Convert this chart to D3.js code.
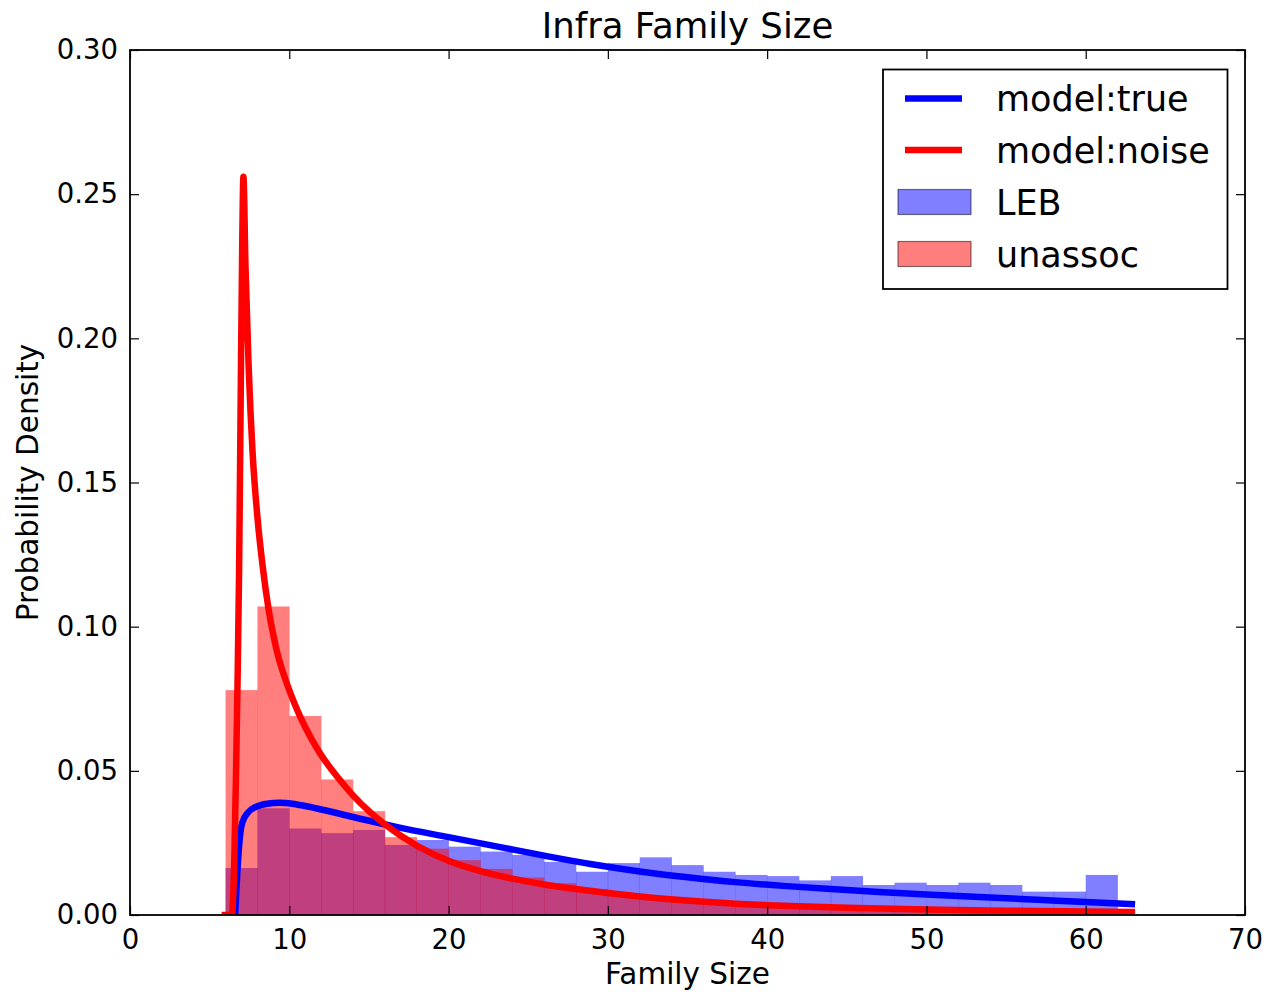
<!DOCTYPE html>
<html>
<head>
<meta charset="utf-8">
<script src="https://cdn.jsdelivr.net/npm/d3@7"></script>
<style>
  html, body { margin: 0; padding: 0; background: #fff; }
  svg { display: block; }
  text { font-family: "DejaVu Sans", sans-serif; fill: #000; }
</style>
</head>
<body>
<script>
// ---- data ----
const binEdges = [6,8,10,12,14,16,18,20,22,24,26,28,30,32,34,36,38,40,42,44,46,48,50,52,54,56,58,60,62];
const lebDensity = [0.0163,0.037,0.030,0.0284,0.0295,0.0243,0.026,0.0237,0.022,0.0208,0.0184,0.015,0.018,0.020,0.0173,0.015,0.0139,0.0135,0.012,0.0135,0.0104,0.0112,0.0104,0.0112,0.0104,0.0081,0.0081,0.0139];
const unassocDensity = [0.078,0.107,0.069,0.047,0.036,0.027,0.023,0.019,0.016,0.013,0.011,0.009,0.0075,0.006,0.005,0.0042,0.0035,0.003,0.0028,0.0025,0.0022,0.002,0.0018,0.0017,0.0015,0.0014,0.0013,0.0012];

const trueX = [6.6,6.75,6.9,7.05,7.4,7.9,8.6,9.4,10.2,11,12,14,17,20,23,26,29,32,35,38,41,44,47,50,54,57,60,63.1];
const trueY = [0,0.016,0.027,0.032,0.0355,0.0375,0.0386,0.0389,0.0386,0.0378,0.0366,0.0340,0.0302,0.0270,0.0238,0.0206,0.0176,0.0151,0.0131,0.0114,0.0101,0.0090,0.0080,0.0071,0.0061,0.0053,0.0045,0.0037];

const noiseX = [5.75,6.4,6.55,6.65,6.75,6.85,6.95,7.05,7.12,7.25,7.45,7.7,8.0,8.35,8.7,9.2,10,10.67,11.4,12,13,14,15,17,19,20,22,24,26,28,30,32,35,38,40,45,50,55,60,63.1];
const noiseY = [0,0,0.02,0.047,0.08,0.12,0.18,0.235,0.256,0.225,0.19,0.16,0.138,0.12,0.106,0.092,0.078,0.069,0.061,0.0555,0.048,0.0415,0.036,0.0275,0.0212,0.0188,0.0152,0.0126,0.0106,0.0090,0.0076,0.0064,0.0050,0.0039,0.0034,0.0025,0.0019,0.0015,0.0012,0.0010];

const xTicks = [0,10,20,30,40,50,60,70];
const yTicks = [0.00,0.05,0.10,0.15,0.20,0.25,0.30];

const legendItems = [
  {label: "model:true", type: "line", color: "#0000ff"},
  {label: "model:noise", type: "line", color: "#ff0000"},
  {label: "LEB", type: "patch", color: "#0000ff"},
  {label: "unassoc", type: "patch", color: "#ff0000"}
];

// ---- layout ----
const W = 1266, H = 992;
const mLeft = 130, mRight = 1245, mTop = 50, mBottom = 915;

const svg = d3.select("body").append("svg").attr("width", W).attr("height", H);

const x = d3.scaleLinear().domain([0, 70]).range([mLeft, mRight]);
const y = d3.scaleLinear().domain([0, 0.30]).range([mBottom, mTop]);

svg.append("clipPath").attr("id", "clip")
  .append("rect").attr("x", mLeft).attr("y", mTop).attr("width", mRight - mLeft).attr("height", mBottom - mTop);

const plot = svg.append("g").attr("clip-path", "url(#clip)");

function bars(values, color) {
  const data = values.map((v, i) => ({x0: binEdges[i], x1: binEdges[i + 1], v}));
  plot.append("g").selectAll("rect").data(data).join("rect")
    .attr("x", d => x(d.x0))
    .attr("width", d => x(d.x1) - x(d.x0) + 0.3)
    .attr("y", d => y(d.v))
    .attr("height", d => y(0) - y(d.v))
    .attr("fill", color)
    .attr("fill-opacity", 0.5);
}
bars(lebDensity, "#0000ff");
bars(unassocDensity, "#ff0000");

const line = d3.line().x(d => x(d[0])).y(d => y(d[1])).curve(d3.curveMonotoneX);
plot.append("path").datum(trueX.map((v, i) => [v, trueY[i]]))
  .attr("d", line).attr("fill", "none").attr("stroke", "#0000ff")
  .attr("stroke-width", 6.5).attr("stroke-linejoin", "round").attr("stroke-linecap", "butt");
plot.append("path").datum(noiseX.map((v, i) => [v, noiseY[i]]))
  .attr("d", line).attr("fill", "none").attr("stroke", "#ff0000")
  .attr("stroke-width", 6.5).attr("stroke-linejoin", "round").attr("stroke-linecap", "butt");

// ---- axes ----
const tickLen = 9;
const fmtY = d3.format(".2f");

const axB = svg.append("g").attr("transform", `translate(0,${mBottom})`)
  .call(d3.axisBottom(x).tickValues(xTicks).tickSizeInner(-tickLen).tickSizeOuter(0).tickPadding(14).tickFormat(d3.format("d")));
const axT = svg.append("g").attr("transform", `translate(0,${mTop})`)
  .call(d3.axisTop(x).tickValues(xTicks).tickSizeInner(-tickLen).tickSizeOuter(0).tickFormat(""));
const axL = svg.append("g").attr("transform", `translate(${mLeft},0)`)
  .call(d3.axisLeft(y).tickValues(yTicks).tickSizeInner(-tickLen).tickSizeOuter(0).tickPadding(12).tickFormat(fmtY));
const axR = svg.append("g").attr("transform", `translate(${mRight},0)`)
  .call(d3.axisRight(y).tickValues(yTicks).tickSizeInner(-tickLen).tickSizeOuter(0).tickFormat(""));

[axB, axT, axL, axR].forEach(a => {
  a.select(".domain").remove();
  a.selectAll(".tick line").attr("stroke", "#000").attr("stroke-width", 1.2);
  a.selectAll(".tick text").attr("font-family", "DejaVu Sans").attr("font-size", 27.5).attr("fill", "#000");
});

svg.append("rect").attr("x", mLeft).attr("y", mTop).attr("width", mRight - mLeft).attr("height", mBottom - mTop)
  .attr("fill", "none").attr("stroke", "#000").attr("stroke-width", 1.8);

// ---- labels ----
svg.append("text").attr("x", (mLeft + mRight) / 2).attr("y", 38).attr("text-anchor", "middle")
  .attr("font-size", 35.5).text("Infra Family Size");
svg.append("text").attr("x", (mLeft + mRight) / 2).attr("y", 984).attr("text-anchor", "middle")
  .attr("font-size", 29.5).text("Family Size");
svg.append("text").attr("transform", `translate(38,${(mTop + mBottom) / 2}) rotate(-90)`).attr("text-anchor", "middle")
  .attr("font-size", 29.5).text("Probability Density");

// ---- legend ----
const lg = svg.append("g");
lg.append("rect").attr("x", 883).attr("y", 69.5).attr("width", 344.5).attr("height", 219.5)
  .attr("fill", "#fff").attr("stroke", "#000").attr("stroke-width", 1.8);
const rowY = [98.5, 150, 202, 254];
legendItems.forEach((it, i) => {
  const cy = rowY[i];
  if (it.type === "line") {
    lg.append("line").attr("x1", 905).attr("x2", 962).attr("y1", cy).attr("y2", cy)
      .attr("stroke", it.color).attr("stroke-width", 6.5);
  } else {
    lg.append("rect").attr("x", 898).attr("y", cy - 12.5).attr("width", 73).attr("height", 25)
      .attr("fill", it.color).attr("fill-opacity", 0.5)
      .attr("stroke", "#000").attr("stroke-opacity", 0.5).attr("stroke-width", 1.2);
  }
  lg.append("text").attr("x", 996).attr("y", cy).attr("dy", "0.36em")
    .attr("font-size", 35).text(it.label);
});
</script>
</body>
</html>
